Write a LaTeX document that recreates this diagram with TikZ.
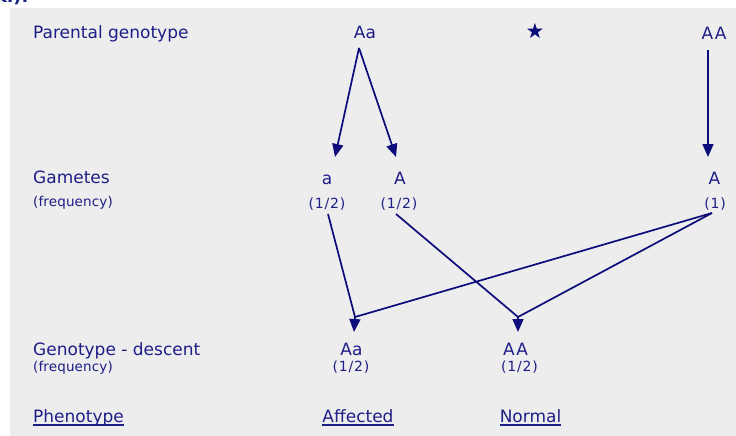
\documentclass[tikz,border=0pt]{standalone}
\usepackage{fontspec}
\setmainfont{DejaVu Sans}
\newfontfamily\fracfont[LetterSpace=6]{DejaVu Sans}
\newfontfamily\freqfont[LetterSpace=1]{DejaVu Sans}
\usetikzlibrary{arrows.meta}
\definecolor{bgc}{RGB}{237,237,237}
\definecolor{txc}{RGB}{30,30,135}
\definecolor{lnc}{RGB}{12,12,122}
\definecolor{hdc}{RGB}{26,35,126}
\begin{document}
\begin{tikzpicture}[x=1pt,y=-1pt,
  lbl/.style={inner sep=0pt,text=txc,font=\fontsize{17}{20}\selectfont},
  frq/.style={inner sep=0pt,text=txc,font=\freqfont\fontsize{13.5}{15}\selectfont},
  frc/.style={inner sep=0pt,text=txc,font=\fracfont\fontsize{14}{16}\selectfont},
  conn/.style={draw=lnc,line width=1.7pt},
  arr/.style={conn,-{Triangle[width=11pt,length=13pt]}},
  uline/.style={draw=txc,line width=1.4pt}]
\useasboundingbox (0,0) rectangle (736,436);
\fill[white] (0,0) rectangle (736,436);
\begin{scope}
\clip (0,0) rectangle (736,7);
\node[anchor=base west,inner sep=0pt,text=hdc,font=\bfseries\fontsize{18}{20}\selectfont] (frag) at (-5,3) {ki).};
\end{scope}
\fill[bgc] (10,8) rectangle (736,436);
% row labels
\node[lbl,anchor=base west] (lpar) at (33,39) {Parental genotype};
\node[lbl,anchor=base west] (lgam) at (33,183) {Gametes};
\node[frq,anchor=west] (lgf) at (33,203) {(frequency)};
\node[lbl,anchor=base west] (ldes) at (33,355) {Genotype - descent};
\node[frq,anchor=west] (ldf) at (33,368) {(frequency)};
\node[lbl,anchor=base west] (lphe) at (33,422) {Phenotype};
% parents
\node[lbl,anchor=base] (pAa) at (365,39) {Aa};
\node[inner sep=0pt,text=lnc,font=\fontsize{21}{22}\selectfont] (star) at (535,31) {★};
\node[lbl,anchor=base] (pAA) at (714,40) {A\kern1.5pt A};
% gametes
\node[lbl,anchor=base] (ga) at (327,184) {a};
\node[lbl,anchor=base] (gA) at (400,184) {A};
\node[lbl,anchor=base] (gA2) at (714.5,184) {A};
\node[frc] (fa) at (327,204) {(1/2)};
\node[frc] (fA) at (399,204) {(1/2)};
\node[frc] (fA2) at (715,204) {(1)};
% descendants
\node[lbl,anchor=base] (dAa) at (351.5,355) {Aa};
\node[lbl,anchor=base] (dAA) at (515.5,355) {A\kern1.5pt A};
\node[frc] (fdAa) at (351,367.5) {(1/2)};
\node[frc] (fdAA) at (519.5,367.5) {(1/2)};
\node[lbl,anchor=base] (phA) at (358,422) {Affected};
\node[lbl,anchor=base] (phN) at (530.5,422) {Normal};
% underlines
\draw[uline] ([yshift=-3pt]lphe.base west) -- ([yshift=-3pt]lphe.base east);
\draw[uline] ([yshift=-3pt]phA.base west) -- ([yshift=-3pt]phA.base east);
\draw[uline] ([yshift=-3pt]phN.base west) -- ([yshift=-3pt]phN.base east);
% connector points
\coordinate (sAa) at (359,48);
\coordinate (sAA) at (708,50);
\coordinate (ta) at (335,157);
\coordinate (tA) at (396,157);
\coordinate (tA2) at (708,157);
\coordinate (sa) at (328,214);
\coordinate (sA) at (396,214);
\coordinate (s1) at (712,213);
\coordinate (jAa) at (355,317);
\coordinate (tAa) at (354,332);
\coordinate (jAA) at (518,317);
\coordinate (tAA) at (518,332);
% arrows
\draw[arr] (sAa) -- (ta);
\draw[arr] (sAa) -- (tA);
\draw[arr] (sAA) -- (tA2);
\draw[arr] (sa) -- (jAa) -- (tAa);
\draw[conn] (s1) -- (jAa);
\draw[arr] (sA) -- (jAA) -- (tAA);
\draw[conn] (s1) -- (jAA);
\end{tikzpicture}
\end{document}
